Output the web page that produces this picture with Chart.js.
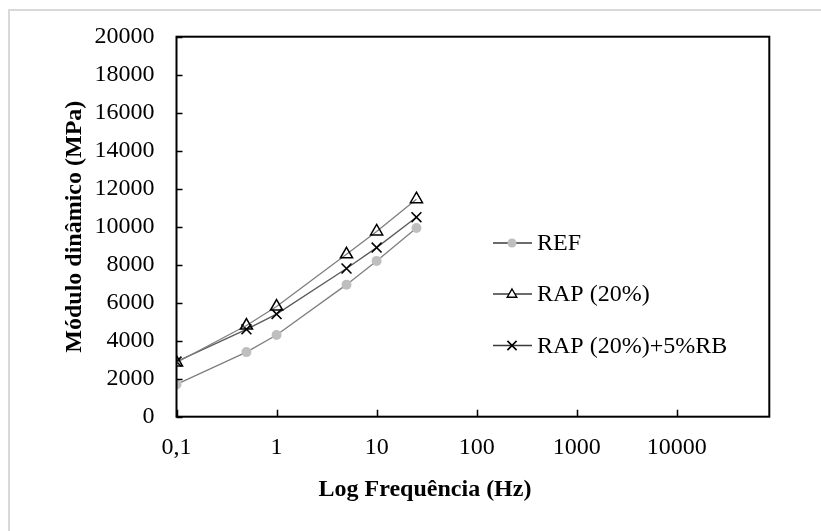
<!DOCTYPE html>
<html>
<head>
<meta charset="utf-8">
<script src="https://cdn.jsdelivr.net/npm/chart.js@4"></script>
<style>
  html, body { margin: 0; padding: 0; background: #ffffff; }
  #wrap { width: 821px; height: 531px; position: relative; }
</style>
</head>
<body>
<div id="wrap"><canvas id="chart" width="821" height="531"></canvas></div>
<script>
// Frequências de ensaio (Hz) e módulos dinâmicos (MPa)
const frequencies = [0.1, 0.5, 1, 5, 10, 25];
const refValues = [1700, 3400, 4300, 6950, 8200, 9930];
const rapValues = [2850, 4800, 5800, 8550, 9750, 11450];
const rapRbValues = [2900, 4600, 5400, 7800, 8900, 10500];

const seriesLabels = ['REF', 'RAP (20%)', 'RAP (20%)+5%RB'];
const xTickValues = [0.1, 1, 10, 100, 1000, 10000];
const xTickLabels = ['0,1', '1', '10', '100', '1000', '10000'];
const yTickStep = 2000;
const yMin = 0, yMax = 20000;
const xMin = 0.1, xMax = 84000;

const xTitle = 'Log Frequência (Hz)';
const yTitle = 'Módulo dinâmico (MPa)';

const FONT = '"Liberation Serif", "Times New Roman", serif';

function pts(values) {
  return frequencies.map((f, i) => ({ x: f, y: values[i] }));
}

// marker drawing used by the legend
function drawMarker(ctx, style, x, y, r, fill, stroke, lw) {
  ctx.save();
  ctx.lineWidth = lw;
  ctx.strokeStyle = stroke;
  ctx.fillStyle = fill;
  ctx.beginPath();
  if (style === 'circle') {
    ctx.arc(x, y, r, 0, Math.PI * 2);
    ctx.fill();
  } else if (style === 'triangle') {
    const w = r * Math.sqrt(3);
    ctx.moveTo(x, y - r);
    ctx.lineTo(x + w / 2, y + r / 2);
    ctx.lineTo(x - w / 2, y + r / 2);
    ctx.closePath();
    ctx.fillStyle = '#ffffff';
    ctx.fill();
    ctx.stroke();
  } else if (style === 'crossRot') {
    const d = r * Math.SQRT1_2;
    ctx.moveTo(x - d, y - d); ctx.lineTo(x + d, y + d);
    ctx.moveTo(x + d, y - d); ctx.lineTo(x - d, y + d);
    ctx.stroke();
  }
  ctx.restore();
}

const decor = {
  id: 'decor',
  beforeDraw(chart) {
    const ctx = chart.ctx;
    ctx.save();
    ctx.fillStyle = '#ffffff';
    ctx.fillRect(0, 0, chart.width, chart.height);
    // outer frame
    ctx.strokeStyle = '#d9d9d9';
    ctx.lineWidth = 2;
    ctx.beginPath();
    ctx.moveTo(9, chart.height + 2);
    ctx.lineTo(9, 10);
    ctx.lineTo(chart.width + 2, 10);
    ctx.stroke();
    ctx.restore();
  },
  afterDraw(chart) {
    const ctx = chart.ctx;
    const a = chart.chartArea;
    const xs = chart.scales.x, ys = chart.scales.y;
    ctx.save();
    // plot frame
    ctx.strokeStyle = '#000000';
    ctx.lineWidth = 2;
    ctx.strokeRect(a.left, a.top, a.right - a.left, a.bottom - a.top);
    // inward tick marks
    ctx.lineWidth = 1.5;
    ctx.beginPath();
    ys.ticks.forEach(t => {
      const y = Math.round(ys.getPixelForValue(t.value)) + 0.5;
      ctx.moveTo(a.left, y); ctx.lineTo(a.left + 6, y);
    });
    xs.ticks.forEach(t => {
      const x = Math.round(xs.getPixelForValue(t.value)) + 0.5;
      ctx.moveTo(x, a.bottom); ctx.lineTo(x, a.bottom - 7);
    });
    ctx.stroke();

    // axis titles
    ctx.fillStyle = '#000000';
    ctx.font = 'bold 24px ' + FONT;
    ctx.textAlign = 'center';
    ctx.textBaseline = 'middle';
    ctx.fillText(xTitle, 425, 490);
    ctx.save();
    ctx.translate(75, (a.top + a.bottom) / 2);
    ctx.rotate(-Math.PI / 2);
    ctx.fillText(yTitle, 0, 0);
    ctx.restore();

    // legend
    const rows = [243, 294, 345.5];
    ctx.font = '24px ' + FONT;
    ctx.textAlign = 'left';
    chart.data.datasets.forEach((ds, i) => {
      const y = rows[i];
      ctx.strokeStyle = '#3a3a3a';
      ctx.lineWidth = 1.3;
      ctx.beginPath();
      ctx.moveTo(493, y); ctx.lineTo(532, y);
      ctx.stroke();
      const st = ds.pointStyle;
      if (st === 'circle') drawMarker(ctx, st, 512, y, 4.5, ds.pointBackgroundColor, ds.pointBorderColor, 1);
      else if (st === 'triangle') drawMarker(ctx, st, 512, y + 0.5, 5.5, '#ffffff', '#000000', 1.4);
      else drawMarker(ctx, st, 512, y, 6.5, '#000000', '#000000', 1.6);
      ctx.fillStyle = '#000000';
      ctx.fillText(ds.label, 537, y + 1);
    });
    ctx.restore();
  }
};

new Chart(document.getElementById('chart'), {
  type: 'line',
  data: {
    datasets: [
      {
        label: seriesLabels[0],
        data: pts(refValues),
        borderColor: '#7f7f7f',
        borderWidth: 1.3,
        pointStyle: 'circle',
        pointRadius: 5,
        pointBackgroundColor: '#bfbfbf',
        pointBorderColor: '#bfbfbf',
        pointBorderWidth: 0,
        tension: 0
      },
      {
        label: seriesLabels[1],
        data: pts(rapValues),
        borderColor: '#7f7f7f',
        borderWidth: 1.3,
        pointStyle: 'triangle',
        pointRadius: 7,
        pointBackgroundColor: 'rgba(255,255,255,0)',
        pointBorderColor: '#000000',
        pointBorderWidth: 1.5,
        tension: 0
      },
      {
        label: seriesLabels[2],
        data: pts(rapRbValues),
        borderColor: '#5a5a5a',
        borderWidth: 1.3,
        pointStyle: 'crossRot',
        pointRadius: 7,
        pointBackgroundColor: '#000000',
        pointBorderColor: '#000000',
        pointBorderWidth: 1.6,
        tension: 0
      }
    ]
  },
  options: {
    responsive: false,
    animation: false,
    devicePixelRatio: 1,
    layout: { padding: { top: 36.7, right: 51.7, left: 0, bottom: 0 } },
    plugins: {
      legend: { display: false },
      tooltip: { enabled: false }
    },
    scales: {
      x: {
        type: 'logarithmic',
        min: xMin,
        max: xMax,
        afterBuildTicks: s => { s.ticks = xTickValues.map(v => ({ value: v })); },
        afterFit: s => { s.height = 531 - 416.7; },
        grid: { display: false, drawTicks: false },
        border: { display: false },
        ticks: {
          autoSkip: false,
          maxRotation: 0,
          padding: 17,
          color: '#000000',
          font: { family: FONT, size: 24 },
          callback: v => {
            const i = xTickValues.findIndex(t => Math.abs(t - v) < 1e-9 * Math.max(1, t));
            return i >= 0 ? xTickLabels[i] : '';
          }
        }
      },
      y: {
        type: 'linear',
        min: yMin,
        max: yMax,
        afterFit: s => { s.width = 176.5; },
        grid: { display: false, drawTicks: false },
        border: { display: false },
        ticks: {
          stepSize: yTickStep,
          padding: 22,
          color: '#000000',
          font: { family: FONT, size: 24 },
          callback: v => String(v)
        }
      }
    }
  },
  plugins: [decor]
});
</script>
</body>
</html>
